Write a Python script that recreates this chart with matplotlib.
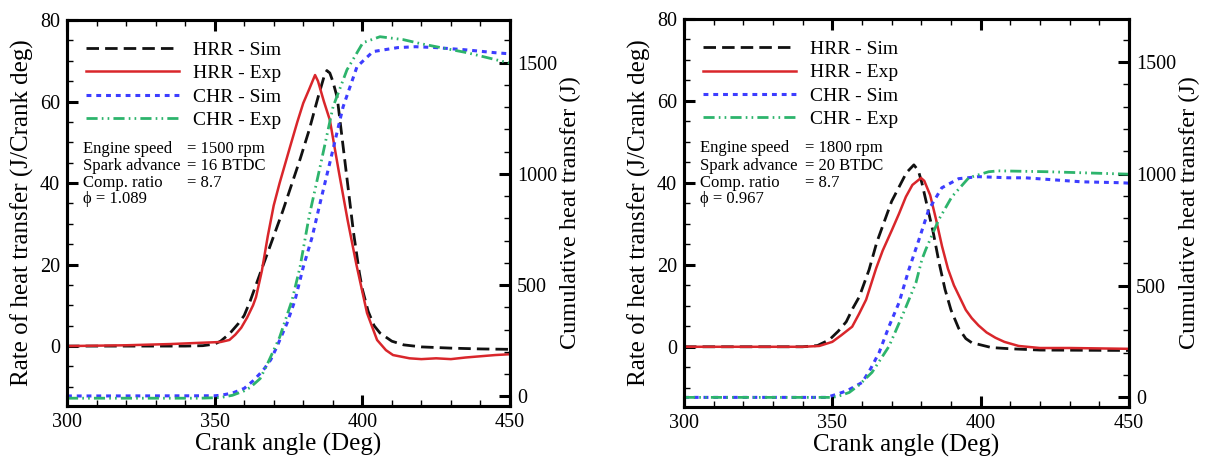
import matplotlib
matplotlib.use("Agg")
import matplotlib.pyplot as plt
from matplotlib.ticker import MultipleLocator

plt.rcParams['font.family'] = ['Liberation Serif', 'DejaVu Serif']
plt.rcParams['mathtext.fontset'] = 'stix'

# ---- data: 1500 rpm case (left panel) ----
hrr_sim_1500_x = [300, 320, 340, 346, 350, 352, 355, 358, 360, 362, 364, 367, 369, 371, 373, 376, 379, 382,
                  385, 387, 388, 389, 390, 391.5, 393, 395, 397, 399, 400, 402, 404, 406, 410, 414, 420, 430,
                  440, 450]
hrr_sim_1500 = [0, 0, 0, 0.1, 0.5, 1.2, 3, 5.5, 7.5, 11, 15, 21, 25, 29, 33, 39.5, 46, 53,
                61, 66, 67.6, 67, 65, 61, 52, 40, 28, 18, 14, 8.5, 5, 3.2, 1.2, 0.3, -0.2, -0.5,
                -0.7, -0.8]
hrr_exp_1500_x = [300, 320, 335, 345, 352, 355, 357, 359, 361, 363, 364, 366, 368, 370, 372, 375.5, 378,
                  380, 382, 384, 385, 387, 389, 392, 395, 398, 401.6, 405, 408, 410.4, 416, 420, 425, 430,
                  435, 440, 445, 450]
hrr_exp_1500 = [0, 0.2, 0.5, 0.8, 1.0, 1.5, 2.8, 4.5, 7, 10, 12, 18.5, 27, 34.5, 40, 48.8, 55,
                59.6, 63, 66.5, 65, 60, 55.5, 43, 31, 20, 8.1, 1.5, -1, -2.2, -3, -3.2, -3.0, -3.2,
                -2.8, -2.5, -2.2, -2.0]
chr_sim_1500_x = [300, 350, 352, 356, 360, 363, 366.4, 369, 371, 374.5, 377.2, 380, 383, 385.7, 389,
                  393.5, 398.2, 403.6, 412, 418, 425, 435, 445, 450]
chr_sim_1500 = [2, 3, 5, 15, 36, 70, 117, 165, 221, 329, 432, 581, 716, 869, 1050,
                1302, 1482, 1550, 1568, 1572, 1568, 1558, 1545, 1540]
chr_exp_1500_x = [300, 345, 352, 356, 360, 362, 365.4, 368, 372, 376.2, 378.9, 382, 385.7, 390.1, 394.8,
                  400.2, 406, 413.8, 420, 435.5, 446.6, 450]
chr_exp_1500 = [-8, -8, -5, 5, 25, 40, 80, 150, 266, 432, 581, 810, 1032, 1302, 1468,
                1590, 1617, 1604, 1585, 1545, 1509, 1498]

# ---- data: 1800 rpm case (right panel) ----
hrr_sim_1800_x = [300, 340, 345, 349, 352, 354.7, 357, 359.1, 362.4, 365, 368.1, 370, 372.5, 375, 377.5,
                  379, 380.2, 382.5, 384, 386, 388, 390, 392.6, 395, 397, 403.7, 410.4, 420, 450]
hrr_sim_1800 = [0, 0, 0.3, 1.7, 3.8, 6.1, 9.5, 12.2, 18.8, 25.5, 31.7, 35.5, 39, 42.5, 44.4,
                43, 40, 32.7, 28, 20.5, 14, 9, 4.5, 2, 1, -0.2, -0.5, -0.8, -0.9]
hrr_exp_1800_x = [300, 340, 345.6, 350, 353, 356.7, 359, 361.4, 364.8, 367, 370.1, 372.5, 374.8, 377,
                  379.9, 381, 383, 385, 387, 389, 391, 393, 395, 397, 399.3, 402, 405, 408, 412.8, 420,
                  430, 450]
hrr_exp_1800 = [0, 0, 0.2, 1.2, 2.8, 4.9, 8, 11.5, 19.2, 23.5, 28.5, 32.5, 36.6, 39.5,
                41.2, 40.5, 37, 31, 24.5, 19, 15, 12, 9, 7, 5.2, 3.5, 2.2, 1.2, 0.2, -0.3,
                -0.3, -0.5]
chr_sim_1800_x = [300, 348, 351.3, 355, 360.1, 363, 365.8, 369.1, 372.5, 375.8, 379.2, 382.5, 386.9,
                  392.6, 399.3, 409.4, 415, 434, 447, 450]
chr_sim_1800 = [0, 0, 13, 30, 67, 130, 201, 317, 424, 571, 705, 839, 937,
                978, 987, 982, 982, 964, 960, 958]
chr_exp_1800_x = [300, 350, 352, 355.7, 359, 363.4, 369.1, 373.5, 378.2, 380.2, 381.5, 385.9, 390.3,
                  396, 402.7, 406, 410.4, 422.8, 445.3, 450]
chr_exp_1800 = [0, 0, 5, 22, 55, 112, 228, 362, 513, 616, 661, 795, 897,
                982, 1009, 1013, 1012, 1009, 1000, 998]

panels = [
    dict(hs=(hrr_sim_1500_x, hrr_sim_1500), he=(hrr_exp_1500_x, hrr_exp_1500),
         cs=(chr_sim_1500_x, chr_sim_1500), ce=(chr_exp_1500_x, chr_exp_1500),
         info=["1500 rpm", "16 BTDC", "8.7"], phi="1.089"),
    dict(hs=(hrr_sim_1800_x, hrr_sim_1800), he=(hrr_exp_1800_x, hrr_exp_1800),
         cs=(chr_sim_1800_x, chr_sim_1800), ce=(chr_exp_1800_x, chr_exp_1800),
         info=["1800 rpm", "20 BTDC", "8.7"], phi="0.967"),
]
info_labels = ["Engine speed", "Spark advance", "Comp. ratio"]

fig = plt.figure(figsize=(12.05, 4.57), dpi=100)
rects = [[0.0556, 0.1116, 0.3676, 0.8446], [0.5676, 0.1094, 0.3693, 0.849]]


def style_axis(ax):
    for s in ax.spines.values():
        s.set_linewidth(2.2)
    ax.tick_params(which='major', direction='in', length=8, width=2.2, labelsize=14.5, pad=5)
    ax.tick_params(which='minor', direction='in', length=4.5, width=1.0)


for p, rect in zip(panels, rects):
    ax = fig.add_axes(rect)
    ax2 = ax.twinx()

    l1, = ax.plot(*p['hs'], color='#111111', lw=2.0, linestyle=(0, (4.5, 2.2)), label='HRR - Sim')
    l2, = ax.plot(*p['he'], color='#d9262b', lw=1.8, label='HRR - Exp')
    l3, = ax2.plot(*p['cs'], color='#3d3dff', lw=2.2, linestyle=(0, (1.6, 1.6)), label='CHR - Sim')
    l4, = ax2.plot(*p['ce'], color='#2db46c', lw=2.0,
                   linestyle=(0, (4, 1.5, 0.6, 1.5, 0.6, 1.5)), label='CHR - Exp')

    ax.set_xlim(300, 450)
    ax.set_ylim(-14.7, 80)
    ax2.set_ylim(-43, 1692)
    ax.xaxis.set_major_locator(MultipleLocator(50))
    ax.xaxis.set_minor_locator(MultipleLocator(10))
    ax.yaxis.set_major_locator(MultipleLocator(20))
    ax.yaxis.set_minor_locator(MultipleLocator(5))
    ax2.yaxis.set_major_locator(MultipleLocator(500))
    ax2.yaxis.set_minor_locator(MultipleLocator(100))
    style_axis(ax)
    style_axis(ax2)
    ax.tick_params(which='both', top=True, right=False)
    ax2.tick_params(which='both', right=True, left=False)

    ax.set_xlabel("Crank angle (Deg)", fontsize=18, labelpad=1)
    ax.set_ylabel("Rate of heat transfer (J/Crank deg)", fontsize=18, labelpad=4)
    ax2.set_ylabel("Cumulative heat transfer (J)", fontsize=17.5, labelpad=2)

    ax2.legend(handles=[l1, l2, l3, l4], loc='upper left', bbox_to_anchor=(0.043, 0.945),
               frameon=False, fontsize=14, handlelength=4.8, handletextpad=0.7,
               labelspacing=0.3, borderpad=0, borderaxespad=0)

    ys = [0.667, 0.622, 0.578]
    for lab, val, y in zip(info_labels, p['info'], ys):
        ax.text(0.036, y, lab, transform=ax.transAxes, fontsize=12, va='center')
        ax.text(0.272, y, "= " + val, transform=ax.transAxes, fontsize=12, va='center')
    ax.text(0.036, 0.536, "\u03d5 = " + p['phi'], transform=ax.transAxes, fontsize=12, va='center')

fig.savefig("out.png", dpi=100)
